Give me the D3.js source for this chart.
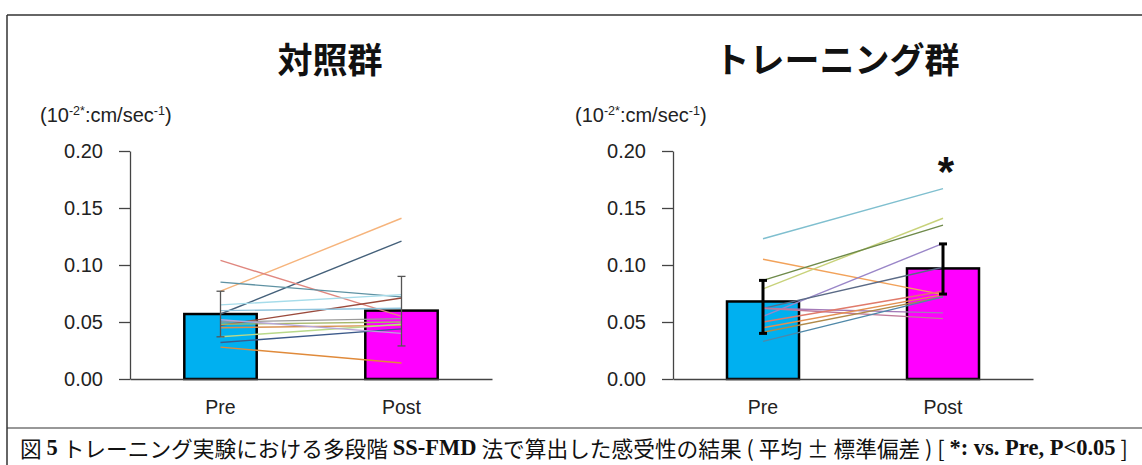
<!DOCTYPE html>
<html><head><meta charset="utf-8">
<script src="https://cdn.jsdelivr.net/npm/d3@7"></script>
<style>
html,body{margin:0;padding:0;background:#fff;}
svg{display:block;}
</style></head>
<body><div id="chart"></div>
<script>
// ---------------- data ----------------
const categories = ["Pre", "Post"];
const yTicks = [0, 0.05, 0.10, 0.15, 0.20];
const unitLabel = ["(10", "-2*", ":cm/sec", "-1", ")"];

const controlTitle = "対照群";
const controlMean = [0.057, 0.060];
const controlErrTop = [0.077, 0.090];
const controlErrBottom = [0.037, 0.029];
const controlPre  = [0.077, 0.057, 0.104, 0.085, 0.065, 0.047, 0.060, 0.050, 0.048, 0.045, 0.037, 0.032, 0.052, 0.028];
const controlPost = [0.141, 0.121, 0.055, 0.072, 0.074, 0.071, 0.062, 0.053, 0.050, 0.047, 0.048, 0.044, 0.040, 0.014];

const trainingTitle = "トレーニング群";
const trainingMean = [0.068, 0.097];
const trainingErrTop = [0.0865, 0.1185];
const trainingErrBottom = [0.040, 0.0745];
const trainingPre  = [0.123, 0.105, 0.079, 0.0865, 0.055, 0.062, 0.062, 0.062, 0.045, 0.050, 0.041, 0.033];
const trainingPost = [0.167, 0.074, 0.141, 0.135, 0.119, 0.098, 0.058, 0.053, 0.074, 0.077, 0.072, 0.072];
const trainingSignificant = [false, true];

const captionParts = [
  ["jp", "図 "], ["lat", "5"], ["jp", " トレーニング実験における多段階 "], ["lat", "SS-FMD"],
  ["jp", " 法で算出した感受性の結果 ( 平均 ± 標準偏差 ) [ "], ["lat", "*: vs. Pre, P<0.05"], ["jp", " ]"]
];

// ---------------- styles ----------------
const barColors = ["#00b0f0", "#ff00ff"];
const controlLineColors = ["#f6b47c", "#44607a", "#e0877f", "#5f92a3", "#a6dcea", "#9b4a3c",
  "#8fc3dc", "#9a9a9a", "#a7b86a", "#d89050", "#b9d98a", "#3c5a8a", "#b7a6d6", "#e08a3a"];
const trainingLineColors = ["#7fbfcf", "#f2a25a", "#c8d27a", "#6e8a4a", "#9a86c8", "#5a6a86",
  "#a47ab8", "#c07a9a", "#e39050", "#e07a6a", "#b08a4a", "#4f88a8"];

const W = 1142, H = 465;
const svg = d3.select("#chart").append("svg").attr("width", W).attr("height", H);

// frame
svg.append("line").attr("x1", 7).attr("x2", W).attr("y1", 15).attr("y2", 15).attr("stroke", "#333").attr("stroke-width", 1.5);
svg.append("line").attr("x1", 7).attr("x2", 7).attr("y1", 15).attr("y2", H).attr("stroke", "#333").attr("stroke-width", 1.5);
svg.append("line").attr("x1", 7).attr("x2", W).attr("y1", 428).attr("y2", 428).attr("stroke", "#333").attr("stroke-width", 1.2);

const y = d3.scaleLinear().domain([0, 0.20]).range([379, 151]);

const panels = [
  {title: controlTitle, titleX: 330, axisX: 130, right: 492, unitX: 40, mean: controlMean,
   errTop: controlErrTop, errBottom: controlErrBottom, pre: controlPre, post: controlPost,
   colors: controlLineColors, errColor: "#555", errWidth: 1.3, sig: [false, false]},
  {title: trainingTitle, titleX: 837, axisX: 673, right: 1033, unitX: 575, mean: trainingMean,
   errTop: trainingErrTop, errBottom: trainingErrBottom, pre: trainingPre, post: trainingPost,
   colors: trainingLineColors, errColor: "#000", errWidth: 3, sig: trainingSignificant}
];

panels.forEach(p => {
  const g = svg.append("g");
  const x = d3.scaleBand().domain(categories).range([p.axisX, p.right]).paddingInner(0.6).paddingOuter(0.3);

  g.append("text").attr("x", p.titleX).attr("y", 57).attr("text-anchor", "middle")
    .attr("dominant-baseline", "central").attr("font-family", "'Noto Sans CJK JP', sans-serif")
    .attr("font-weight", "bold").attr("font-size", 35).attr("fill", "#111").text(p.title);

  const u = g.append("text").attr("x", p.unitX).attr("y", 122)
    .attr("font-family", "'Liberation Sans', Arial, sans-serif").attr("font-size", 20).attr("fill", "#222");
  unitLabel.forEach((s, i) => {
    const sup = i % 2 === 1;
    u.append("tspan").attr("font-size", sup ? 12.5 : 20).attr("dy", sup ? -7 : (i > 0 ? 7 : 0)).text(s);
  });

  // bars
  g.selectAll("rect.bar").data(categories).enter().append("rect")
    .attr("x", d => x(d)).attr("width", x.bandwidth())
    .attr("y", (d, i) => y(p.mean[i])).attr("height", (d, i) => y(0) - y(p.mean[i]))
    .attr("fill", (d, i) => barColors[i]).attr("stroke", "#000").attr("stroke-width", 2.5);

  // individual lines
  const cx = c => x(c) + x.bandwidth() / 2;
  p.pre.forEach((v, i) => {
    g.append("line").attr("x1", cx("Pre")).attr("x2", cx("Post"))
      .attr("y1", y(v)).attr("y2", y(p.post[i]))
      .attr("stroke", p.colors[i]).attr("stroke-width", 1.4);
  });

  // error bars
  categories.forEach((c, i) => {
    const xc = cx(c);
    g.append("line").attr("x1", xc).attr("x2", xc).attr("y1", y(p.errTop[i])).attr("y2", y(p.errBottom[i]))
      .attr("stroke", p.errColor).attr("stroke-width", p.errWidth);
    [p.errTop[i], p.errBottom[i]].forEach(v => {
      g.append("line").attr("x1", xc - 4).attr("x2", xc + 4).attr("y1", y(v)).attr("y2", y(v))
        .attr("stroke", p.errColor).attr("stroke-width", p.errWidth);
    });
    if (p.sig[i]) {
      g.append("text").attr("x", xc + 3).attr("y", y(p.errTop[i]) - 72).attr("text-anchor", "middle")
        .attr("dominant-baseline", "central").attr("font-family", "'Liberation Sans', Arial, sans-serif")
        .attr("font-weight", "bold").attr("font-size", 42).attr("fill", "#111").text("*");
    }
  });

  // axes
  const ya = g.append("g").attr("transform", `translate(${p.axisX},0)`)
    .call(d3.axisLeft(y).tickValues(yTicks).tickFormat(d3.format(".2f")).tickSize(11).tickSizeOuter(0).tickPadding(16));
  ya.selectAll("path,line").attr("stroke", "#444").attr("stroke-width", 1.3);
  ya.selectAll("text").attr("font-family", "'Liberation Sans', Arial, sans-serif").attr("font-size", 20).attr("fill", "#222");

  const xa = g.append("g").attr("transform", `translate(0,${y(0)})`)
    .call(d3.axisBottom(x).tickSize(0).tickSizeOuter(0).tickPadding(21));
  xa.select("path").attr("stroke", "#444").attr("stroke-width", 1.5);
  xa.selectAll("text").attr("font-family", "'Liberation Sans', Arial, sans-serif").attr("font-size", 19.5).attr("fill", "#222");
});

// caption
const cap = svg.append("text").attr("x", 20).attr("y", 447).attr("dominant-baseline", "central").attr("fill", "#111");
captionParts.forEach(([k, s]) => {
  const t = cap.append("tspan").text(s);
  if (k === "jp") t.attr("font-family", "'Noto Sans CJK JP', sans-serif").attr("font-size", 21.7);
  else t.attr("font-family", "'Liberation Serif', serif").attr("font-weight", "bold").attr("font-size", 22.5);
});
</script>
</body></html>
